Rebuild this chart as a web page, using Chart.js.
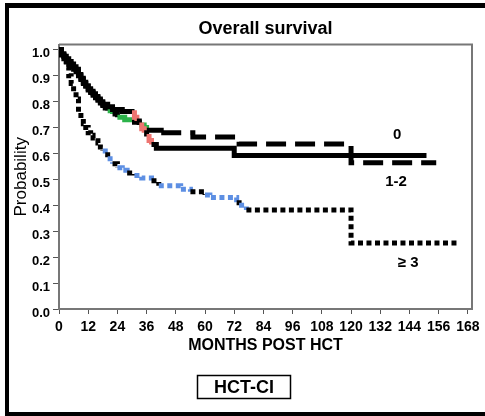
<!DOCTYPE html>
<html>
<head>
<meta charset="utf-8">
<script src="https://cdn.jsdelivr.net/npm/chart.js@4.4.1/dist/chart.umd.min.js"></script>
<style>
  html, body { margin: 0; padding: 0; background: #fff; }
  #wrap { width: 485px; height: 416px; }
</style>
</head>
<body>
<div id="wrap"><canvas id="survival-chart" width="485" height="416"></canvas></div>
<script>
// Overall survival by HCT-CI group
const monthsZero = [0, 1, 2, 3, 4, 5, 6, 7, 8, 9, 10, 11, 12, 13, 14, 15, 16, 17, 18, 19, 20, 22, 24, 27, 30, 33, 35, 36, 42, 55, 74, 120, 155];
const survZero = [1.0, 0.985, 0.975, 0.965, 0.955, 0.945, 0.935, 0.925, 0.905, 0.89, 0.875, 0.86, 0.845, 0.835, 0.825, 0.815, 0.805, 0.795, 0.785, 0.775, 0.765, 0.752, 0.74, 0.73, 0.72, 0.71, 0.70, 0.69, 0.68, 0.664, 0.637, 0.564, 0.564];

const monthsMid = [0, 1, 2, 3, 4, 5, 6, 7, 8, 9, 10, 11, 12, 13, 14, 15, 16, 17, 18, 20, 22, 26, 30, 31, 32, 33, 34, 35, 36, 37, 38, 40, 72, 151];
const survMid = [1.0, 0.98, 0.965, 0.955, 0.945, 0.935, 0.925, 0.915, 0.90, 0.885, 0.87, 0.86, 0.85, 0.84, 0.83, 0.82, 0.81, 0.80, 0.79, 0.78, 0.77, 0.762, 0.757, 0.74, 0.725, 0.71, 0.695, 0.68, 0.665, 0.65, 0.635, 0.62, 0.592, 0.592];

const monthsHigh = [0, 1, 2, 3, 4, 5, 6, 7, 8, 9, 10, 11, 12, 13, 14, 16, 17, 18, 19, 20, 21, 22, 24, 26, 28, 31, 34, 38, 41, 50, 54, 60, 62, 73, 74, 77, 120, 164];
const survHigh = [1.0, 0.98, 0.955, 0.93, 0.90, 0.87, 0.84, 0.81, 0.76, 0.735, 0.715, 0.70, 0.68, 0.67, 0.66, 0.64, 0.625, 0.61, 0.595, 0.58, 0.57, 0.56, 0.545, 0.535, 0.525, 0.515, 0.505, 0.495, 0.475, 0.462, 0.452, 0.44, 0.43, 0.41, 0.40, 0.382, 0.255, 0.255];

const groupNames = ['0', '1-2', '≥ 3'];
const xTicks = [0, 12, 24, 36, 48, 60, 72, 84, 96, 108, 120, 132, 144, 156, 168];
const yTicks = [0, 0.1, 0.2, 0.3, 0.4, 0.5, 0.6, 0.7, 0.8, 0.9, 1.0];

const FONT = 'Liberation Sans, Arial, sans-serif';

function toPoints(months, surv) {
    return months.map((m, i) => ({ x: m, y: surv[i] }));
}

// colour most steps inside a range, every third one stays black
function accent(from, to, colour) {
    return ctx => {
        const m = ctx.p0.parsed.x;
        return (m >= from && m < to && ctx.p0DataIndex % 3 !== 0) ? colour : '#000';
    };
}

// Frame, plot box, group labels and the HCT-CI box
const decorPlugin = {
    id: 'decor',
    beforeDraw(chart) {
        const ctx = chart.ctx;
        ctx.save();
        ctx.fillStyle = '#fff';
        ctx.fillRect(0, 0, chart.width, chart.height);
        ctx.restore();
    },
    afterDraw(chart) {
        const ctx = chart.ctx;
        const area = chart.chartArea;
        const xs = chart.scales.x;
        const ys = chart.scales.y;
        ctx.save();

        // plot box
        ctx.strokeStyle = '#777';
        ctx.lineWidth = 2;
        ctx.beginPath();
        ctx.moveTo(area.left, area.top);
        ctx.lineTo(area.right, area.top);
        ctx.lineTo(area.right, area.bottom);
        ctx.stroke();

        // outer frame
        ctx.fillStyle = '#000';
        ctx.fillRect(5, 3, chart.width - 5, 5);
        ctx.fillRect(5, 3, 4, chart.height - 3);
        ctx.fillRect(5, chart.height - 4, chart.width - 5, 4);

        // group labels
        ctx.font = 'bold 15px ' + FONT;
        ctx.textAlign = 'center';
        ctx.textBaseline = 'middle';
        ctx.fillText(groupNames[0], xs.getPixelForValue(139), ys.getPixelForValue(0.672));
        ctx.fillText(groupNames[1], xs.getPixelForValue(138.5), ys.getPixelForValue(0.49));
        ctx.fillText(groupNames[2], xs.getPixelForValue(143.5), ys.getPixelForValue(0.178));

        // legend box
        ctx.lineWidth = 1.5;
        ctx.strokeStyle = '#000';
        ctx.strokeRect(197.5, 375.5, 93, 23);
        ctx.font = 'bold 18px ' + FONT;
        ctx.fillText('HCT-CI', 244, 388);
        ctx.restore();
    }
};

const ctx = document.getElementById('survival-chart').getContext('2d');

const survivalChart = new Chart(ctx, {
    type: 'line',
    data: {
        datasets: [
            {
                label: groupNames[0],
                data: toPoints(monthsZero, survZero),
                order: 2,
                borderColor: '#000',
                borderWidth: 5,
                segment: {
                    borderColor: accent(20, 42, '#2cb34a'),
                    borderDash: c => (c.p0.parsed.x < 42 ? [] : [20, 9])
                }
            },
            {
                label: groupNames[1],
                data: toPoints(monthsMid, survMid),
                order: 1,
                borderColor: '#000',
                borderWidth: 5,
                segment: { borderColor: accent(26, 40, '#ee7470') }
            },
            {
                label: groupNames[2],
                data: toPoints(monthsHigh, survHigh),
                order: 3,
                borderColor: '#000',
                borderWidth: 5,
                borderDash: [5, 3.5],
                segment: { borderColor: accent(18, 76, '#5d8fe3') }
            }
        ]
    },
    options: {
        responsive: false,
        animation: false,
        stepped: true,
        pointRadius: 0,
        borderCapStyle: 'butt',
        layout: { padding: { left: 0, right: 13, top: 0, bottom: 0 } },
        plugins: {
            legend: { display: false },
            tooltip: { enabled: false },
            title: {
                display: true,
                text: 'Overall survival',
                fullSize: false,
                color: '#000',
                font: { family: FONT, size: 18, weight: 'bold' },
                padding: { top: 18, bottom: 5 }
            }
        },
        scales: {
            x: {
                type: 'linear',
                min: 0,
                max: 169.7,
                afterFit: scale => { scale.height = 107; },
                afterBuildTicks: scale => { scale.ticks = xTicks.map(v => ({ value: v })); },
                grid: { drawOnChartArea: false, drawTicks: true, tickLength: 5, color: '#555' },
                border: { display: true, color: '#777', width: 2 },
                ticks: {
                    color: '#000',
                    padding: 5,
                    maxRotation: 0,
                    autoSkip: false,
                    font: { family: FONT, size: 14, weight: 'bold' }
                },
                title: {
                    display: true,
                    text: 'MONTHS POST HCT',
                    color: '#000',
                    font: { family: FONT, size: 16, weight: 'bold' },
                    padding: { top: 0, bottom: 61 }
                }
            },
            y: {
                min: 0,
                max: 1.02,
                afterFit: scale => { scale.width = 59; },
                afterBuildTicks: scale => { scale.ticks = yTicks.map(v => ({ value: v })); },
                grid: { drawOnChartArea: false, drawTicks: true, tickLength: 6, color: '#555' },
                border: { display: true, color: '#777', width: 2 },
                ticks: {
                    color: '#000',
                    padding: 3,
                    labelOffset: 4,
                    autoSkip: false,
                    font: { family: FONT, size: 13, weight: 'bold' },
                    callback: v => v.toFixed(1)
                },
                title: {
                    display: true,
                    text: 'Probability',
                    color: '#000',
                    font: { family: FONT, size: 17 },
                    padding: { top: 11, bottom: 0 }
                }
            }
        }
    },
    plugins: [decorPlugin]
});
</script>
</body>
</html>
